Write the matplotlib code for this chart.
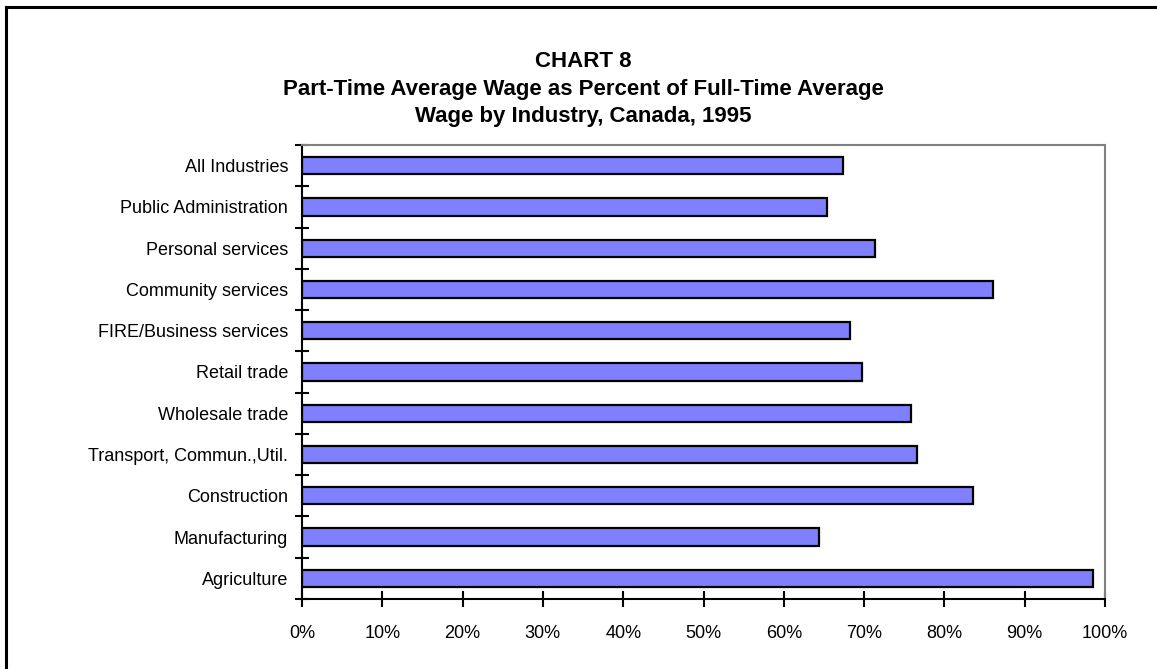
import matplotlib.pyplot as plt
from matplotlib.lines import Line2D

plt.rcParams['font.family'] = ['Liberation Sans', 'DejaVu Sans']

industries = [
    'Agriculture',
    'Manufacturing',
    'Construction',
    'Transport, Commun.,Util.',
    'Wholesale trade',
    'Retail trade',
    'FIRE/Business services',
    'Community services',
    'Personal services',
    'Public Administration',
    'All Industries',
]

pct_of_full_time = [98.5, 64.4, 83.6, 76.6, 75.9, 69.7, 68.2, 86.1, 71.4, 65.4, 67.4]

x_ticks = list(range(0, 101, 10))
x_labels = [f'{t}%' for t in x_ticks]

title_lines = [
    'CHART 8',
    'Part-Time Average Wage as Percent of Full-Time Average',
    'Wage by Industry, Canada, 1995',
]

fig = plt.figure(figsize=(11.57, 6.69), dpi=100)
ax = fig.add_axes([302 / 1157, 1 - 599 / 669, 803 / 1157, 454 / 669])

pos = list(range(len(industries)))
ax.barh(pos, pct_of_full_time, height=0.42, color='#8080FF',
        edgecolor='black', linewidth=1.6)

ax.set_xlim(0, 100)
ax.set_ylim(-0.5, len(industries) - 0.5)

ax.set_xticks(x_ticks)
ax.set_xticklabels(x_labels)
ax.tick_params(axis='x', direction='inout', length=11, width=1.5,
               pad=13, labelsize=13)

ax.set_yticks(pos)
ax.set_yticklabels(industries)
ax.tick_params(axis='y', which='major', length=0, pad=10, labelsize=13)
ax.set_yticks([p - 0.5 for p in pos] + [len(industries) - 0.5], minor=True)
ax.tick_params(axis='y', which='minor', direction='inout', length=10, width=1.5)

for side in ['left', 'bottom']:
    ax.spines[side].set_linewidth(1.5)
    ax.spines[side].set_color('black')
for side in ['top', 'right']:
    ax.spines[side].set_linewidth(1.5)
    ax.spines[side].set_color('#808080')

# outer frame (only top and left edges show in the picture)
fig.add_artist(Line2D([6 / 1157, 1], [1 - 7 / 669, 1 - 7 / 669],
                      color='black', linewidth=2.2))
fig.add_artist(Line2D([6 / 1157, 6 / 1157], [0, 1 - 7 / 669],
                      color='black', linewidth=2.2))

title_x = 583 / 1157
for line, base_y in zip(title_lines, [67, 95, 122]):
    fig.text(title_x, 1 - base_y / 669, line, ha='center', va='baseline',
             fontsize=16, fontweight='bold')

fig.savefig('out.png', dpi=100)
